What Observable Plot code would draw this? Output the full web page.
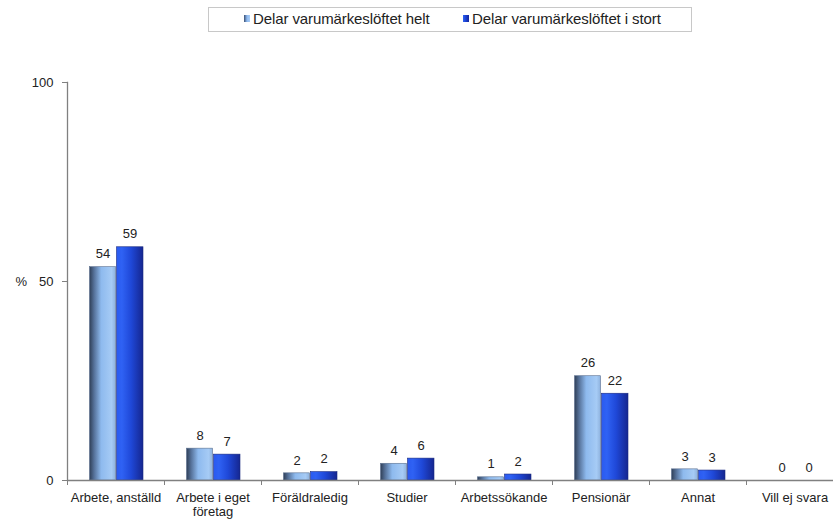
<!DOCTYPE html>
<html>
<head>
<meta charset="utf-8">
<script src="https://cdn.jsdelivr.net/npm/d3@7"></script>
<script src="https://cdn.jsdelivr.net/npm/@observablehq/plot@0.6"></script>
<style>
  body { margin: 0; background: #fff; font-family: "Liberation Sans", Arial, sans-serif; }
  #wrap { width: 833px; }
  #legend { position: relative; height: 38px; }
  #legend .box { position: absolute; left: 208px; top: 7px; width: 484px; height: 25px; border: 1px solid #c8c8c8; box-sizing: border-box; font-size: 15px; color: #222; }
  #legend .item { position: absolute; top: 2px; display: flex; align-items: center; white-space: nowrap; letter-spacing: -0.1px; }
  #legend .sw { width: 6px; height: 7px; margin-right: 3px; }
  svg { display: block; }
</style>
</head>
<body>
<div id="wrap">
  <div id="legend"><div class="box">
    <div class="item" style="left:35px"><span class="sw" style="background:linear-gradient(90deg,#3a4f72,#8fbaf0 50%,#a9cdf6)"></span><span id="l1"></span></div>
    <div class="item" style="left:254px"><span class="sw" style="background:linear-gradient(90deg,#2f63f2,#1a3fd0 50%,#16279a)"></span><span id="l2"></span></div>
  </div></div>
  <div id="chart"></div>
</div>
<script>
const categories = ["Arbete, anställd", "Arbete i eget\nföretag", "Föräldraledig", "Studier", "Arbetssökande", "Pensionär", "Annat", "Vill ej svara"];
const seriesNames = ["Delar varumärkeslöftet helt", "Delar varumärkeslöftet i stort"];
const helt = [53.6, 8.0, 1.8, 4.2, 0.8, 26.2, 2.8, 0];
const stort = [58.6, 6.5, 2.1, 5.5, 1.5, 21.8, 2.5, 0];
const yTicks = [0, 50, 100];

document.getElementById("l1").textContent = seriesNames[0];
document.getElementById("l2").textContent = seriesNames[1];

const dataHelt = categories.map((c, i) => ({category: c, value: helt[i]}));
const dataStort = categories.map((c, i) => ({category: c, value: stort[i]}));

const font = "Liberation Sans, Arial, sans-serif";

const chart = Plot.plot({
  width: 833,
  height: 482,
  marginTop: 44,
  marginBottom: 40,
  marginLeft: 67,
  marginRight: -10,
  style: {fontFamily: font, fontSize: "12px", color: "#222", background: "#fff", overflow: "visible"},
  x: {domain: categories, padding: 0, label: null},
  y: {domain: [0, 100], label: null},
  marks: [
    Plot.barY(dataHelt, {x: "category", y: "value", fill: "url(#gHelt)", stroke: "#5a6f8f", strokeWidth: 0.6, insetLeft: 22.5, insetRight: 48.5}),
    Plot.barY(dataStort, {x: "category", y: "value", fill: "url(#gStort)", stroke: "#1a2a80", strokeWidth: 0.6, insetLeft: 49.5, insetRight: 21}),
    Plot.text(dataHelt, {x: "category", y: "value", text: d => String(Math.round(d.value)), dx: -13, dy: -13, fontSize: 13, fill: "#222"}),
    Plot.text(dataStort, {x: "category", y: "value", text: d => String(Math.round(d.value)), dx: 14, dy: -13, fontSize: 13, fill: "#222"}),
    Plot.ruleY([0], {stroke: "#808080", strokeWidth: 1.3}),
    Plot.ruleX(categories, {x: d => d, y1: 0, y2: 0, dx: -48.5, insetBottom: -5, stroke: "#808080", strokeWidth: 1}),
    Plot.frame({anchor: "left", stroke: "#808080", strokeWidth: 1.3}),
    Plot.axisY({ticks: yTicks, tickSize: 5, tickPadding: 9, stroke: "#808080", fontSize: 13, label: null}),
    Plot.axisX({tickSize: 0, tickPadding: 11, fontSize: 13, lineHeight: 1.1, label: null, lineWidth: 20}),
    Plot.text([50], {y: d => d, text: () => "%", frameAnchor: "left", dx: -52, fontSize: 13, fill: "#222"})
  ]
});

const defs = `
<defs>
  <linearGradient id="gHelt" x1="0" x2="1" y1="0" y2="0">
    <stop offset="0" stop-color="#2f3f57"/>
    <stop offset="0.18" stop-color="#56729a"/>
    <stop offset="0.45" stop-color="#8ebaee"/>
    <stop offset="0.85" stop-color="#a6cbf5"/>
    <stop offset="1" stop-color="#8eb2de"/>
  </linearGradient>
  <linearGradient id="gStort" x1="0" x2="1" y1="0" y2="0">
    <stop offset="0" stop-color="#2a5af0"/>
    <stop offset="0.2" stop-color="#2f62f4"/>
    <stop offset="0.55" stop-color="#1f48d8"/>
    <stop offset="1" stop-color="#152690"/>
  </linearGradient>
</defs>`;
chart.insertAdjacentHTML("afterbegin", defs);
document.getElementById("chart").appendChild(chart);
</script>
</body>
</html>
